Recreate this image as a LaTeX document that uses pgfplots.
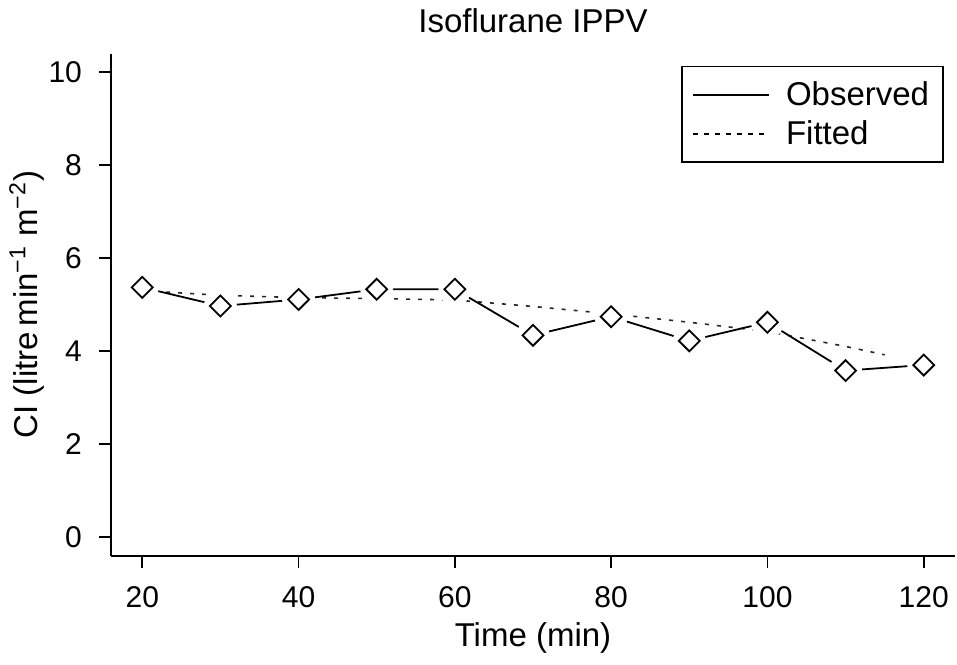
\documentclass[border=0pt]{standalone}
\usepackage{fontspec}
\setmainfont{Liberation Sans}
\usepackage{pgfplots}
\pgfplotsset{compat=1.18}
\begin{document}
\begin{tikzpicture}
\useasboundingbox (-55.5pt,-54.2pt) rectangle (423pt,277.8pt);
\begin{axis}[
  scale only axis,
  width=422pt, height=251pt,
  xmin=16, xmax=124, ymin=-0.4, ymax=10.4,
  axis x line*=bottom, axis y line*=left,
  axis line style={-, line width=0.9pt},
  tick style={black, line width=0.9pt},
  tick align=outside, major tick length=6pt,
  xtick={20,40,60,80,100,120},
  ytick={0,2,4,6,8,10},
  /pgf/number format/assume math mode=true,
  tick label style={font=\fontsize{15}{18}\selectfont},
  xticklabel style={yshift=-6pt},
  yticklabel style={xshift=-5pt},
  title={Isoflurane IPPV},
  title style={font=\fontsize{16.5}{19.8}\selectfont, at={(axis description cs:0.5,1)}, anchor=center, yshift=10.5pt},
  xlabel={Time (min)},
  ylabel={CI (litre\,min\textsuperscript{−1} m\textsuperscript{−2})},
  label style={font=\fontsize{16.5}{19.8}\selectfont},
  xlabel style={at={(axis description cs:0.5,-0.1633)}, anchor=center},
  ylabel style={at={(axis description cs:-0.0995,0.5)}, anchor=center},
  legend style={at={(1,1)}, anchor=north east, xshift=-5.5pt, yshift=-6pt,
    draw=black, line width=0.9pt, font=\fontsize{16.5}{19.8}\selectfont,
    inner xsep=5pt, inner ysep=5.5pt, row sep=2pt},
  legend cell align=left,
  legend image code/.code={\draw[#1] (0pt,0pt) -- (38pt,0pt); \path (44pt,0pt);},
]
\addlegendimage{black, line width=0.9pt}
\addlegendentry{Observed}
\addlegendimage{black, line width=0.8pt, dash pattern=on 2.5pt off 3pt}
\addlegendentry{Fitted}

% fitted
\addplot[black!85, line width=0.8pt, dash pattern=on 2pt off 4pt, forget plot] coordinates {
(20,5.30) (30,5.20) (40,5.15) (50,5.13) (60,5.10) (70,4.96) (80,4.80) (90,4.62) (100,4.42) (110,4.10) (115,3.92)
};
% observed
\addplot[black, line width=0.9pt, forget plot] coordinates {
(20,5.37) (30,4.97) (40,5.11) (50,5.33) (60,5.33) (70,4.34) (80,4.74) (90,4.22) (100,4.62) (110,3.58) (120,3.70)
};
% white halos (gaps round the points)
\addplot[white, only marks, mark=*, mark size=8pt, mark options={draw=white, fill=white}, forget plot] coordinates {
(20,5.37) (30,4.97) (40,5.11) (50,5.33) (60,5.33) (70,4.34) (80,4.74) (90,4.22) (100,4.62) (110,3.58) (120,3.70)
};
% markers
\addplot[only marks, mark=square, mark size=3.7pt, mark options={rotate=45, black, line width=0.9pt, fill=white}, forget plot] coordinates {
(20,5.37) (30,4.97) (40,5.11) (50,5.33) (60,5.33) (70,4.34) (80,4.74) (90,4.22) (100,4.62) (110,3.58) (120,3.70)
};
\end{axis}
\end{tikzpicture}
\end{document}
